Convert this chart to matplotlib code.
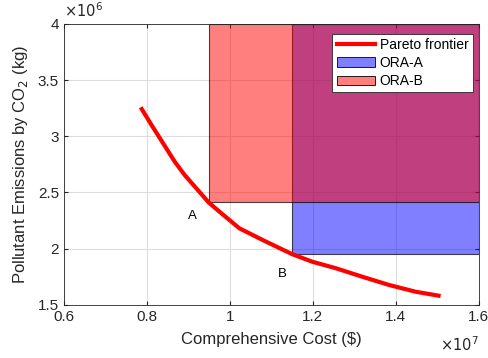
import numpy as np
import matplotlib
matplotlib.use("Agg")
import matplotlib.pyplot as plt
from matplotlib.patches import Patch
from matplotlib.lines import Line2D

plt.rcParams['font.family'] = ['Liberation Sans', 'DejaVu Sans']

# pareto frontier (cost in $, emissions in kg)
cost = [0.785e7, 0.811e7, 0.839e7, 0.867e7, 0.891e7, 0.919e7, 0.949e7, 0.975e7,
        1.023e7, 1.079e7, 1.150e7, 1.199e7, 1.256e7, 1.319e7, 1.384e7, 1.448e7, 1.508e7]
emis = [3.258e6, 3.101e6, 2.938e6, 2.774e6, 2.655e6, 2.537e6, 2.41e6, 2.328e6,
        2.180e6, 2.076e6, 1.95e6, 1.882e6, 1.824e6, 1.749e6, 1.675e6, 1.615e6, 1.577e6]

# regions (x0, y0, x1, y1)
ora_a = [1.15e7, 1.95e6, 1.6e7, 4.0e6]
ora_b = [0.95e7, 2.41e6, 1.6e7, 4.0e6]

labels = ["A", "B"]
label_x = [0.91e7, 1.127e7]
label_y = [2.29e6, 1.77e6]

fig = plt.figure(figsize=(4.88, 3.58), dpi=100)
ax = fig.add_axes([0.131, 0.149, 0.850, 0.784])

ax.fill([ora_a[0], ora_a[2], ora_a[2], ora_a[0]], [ora_a[1], ora_a[1], ora_a[3], ora_a[3]],
        facecolor=(0, 0, 1, 0.5), edgecolor=(0, 0, 0, 0.7), lw=0.8, zorder=2)
ax.fill([ora_b[0], ora_b[2], ora_b[2], ora_b[0]], [ora_b[1], ora_b[1], ora_b[3], ora_b[3]],
        facecolor=(1, 0, 0, 0.5), edgecolor=(0, 0, 0, 0.7), lw=0.8, zorder=2)
ax.plot(cost, emis, color='red', lw=3, zorder=3, solid_capstyle='butt')

for t, x, y in zip(labels, label_x, label_y):
    ax.text(x, y, t, fontsize=9.5, ha='center', va='center', color='k', zorder=4)

ax.set_xlim(0.6e7, 1.6e7)
ax.set_ylim(1.5e6, 4.0e6)
ax.set_xticks(np.arange(0.6e7, 1.61e7, 0.2e7))
ax.set_yticks(np.arange(1.5e6, 4.01e6, 0.5e6))
ax.set_xticklabels(['0.6', '0.8', '1', '1.2', '1.4', '1.6'])
ax.set_yticklabels(['1.5', '2', '2.5', '3', '3.5', '4'])
ax.grid(True, color='#dedede', lw=0.8, zorder=0)
ax.set_axisbelow(True)
ax.tick_params(direction='in', length=3, colors='#262626', labelsize=11, top=True, right=True)
for s in ax.spines.values():
    s.set_color('#262626')
    s.set_linewidth(0.6)
    s.set_zorder(5)

ax.set_xlabel('Comprehensive Cost ($)', fontsize=12, color='#262626', labelpad=6)
ax.set_ylabel('Pollutant Emissions by CO$_2$ (kg)', fontsize=12, color='#262626', labelpad=6)
fig.text(0.131, 0.945, r'$\times10^6$', fontsize=10.5, color='#262626', ha='left', va='bottom')
fig.text(0.98, 0.01, r'$\times10^7$', fontsize=10.5, color='#262626', ha='right', va='bottom')

handles = [Line2D([0], [0], color='red', lw=3),
           Patch(facecolor=(0, 0, 1, 0.5), edgecolor='k', lw=0.6),
           Patch(facecolor=(1, 0, 0, 0.5), edgecolor='k', lw=0.6)]
leg = ax.legend(handles, ['Pareto frontier', 'ORA-A', 'ORA-B'], loc='upper right',
                bbox_to_anchor=(0.985, 0.965), fontsize=10, fancybox=False, framealpha=1,
                edgecolor='#262626', borderpad=0.3, labelspacing=0.3, handlelength=2.8,
                handletextpad=0.3, borderaxespad=0)
leg.get_frame().set_linewidth(0.6)

fig.savefig('out.png', dpi=100)
